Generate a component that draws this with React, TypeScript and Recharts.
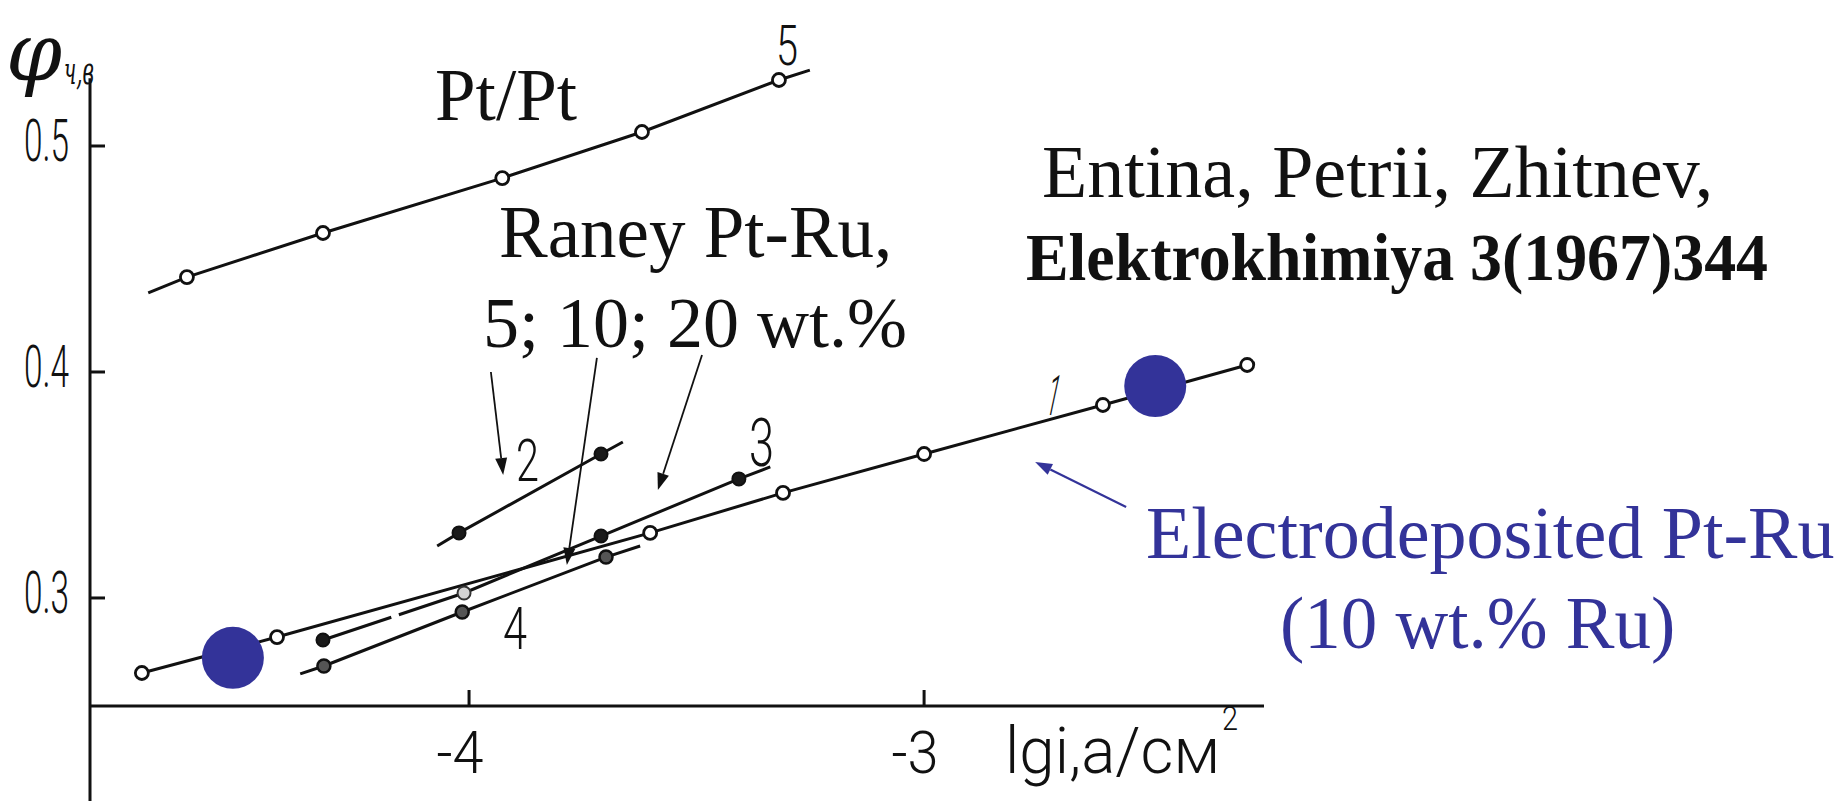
import React from "react";
import { ComposedChart, Line, Scatter, XAxis, YAxis, ReferenceLine } from "recharts";

// lg i (A/cm2) vs potential (V)
// measured points, [lg i, phi]
const curve1Points = [
  [-4.719, 0.2668], [-4.422, 0.2827], [-3.602, 0.3288], [-3.31, 0.3465],
  [-3.0, 0.3637], [-2.607, 0.3854], [-2.29, 0.4031],
];
const curve2Points = [[-4.022, 0.3288], [-3.71, 0.3637]];
const curve3Points = [[-4.321, 0.2814], [-4.011, 0.3022], [-3.71, 0.3274], [-3.407, 0.3527]];
const curve4Points = [[-4.319, 0.2699], [-4.015, 0.2938], [-3.699, 0.3181]];
const curve5Points = [
  [-4.62, 0.442], [-4.321, 0.4615], [-3.927, 0.4858], [-3.62, 0.5062], [-3.319, 0.5292],
];
// where the drawn straight lines stop
const curve1Ends = [[-2.273, 0.404]];
const curve2Ends = [[-4.07, 0.323], [-3.662, 0.369]];
const curve3Ends = [[-3.338, 0.358]];
const curve4Ends = [[-4.371, 0.2664], [-3.624, 0.323]];
const curve5Ends = [[-4.705, 0.435], [-3.251, 0.5336]];
// electrodeposited Pt-Ru (10 wt.% Ru) markers
const electroPoints = [[-4.519, 0.2735], [-2.492, 0.3938]];

const xTicks = [-4, -3];
const yTicks = [0.3, 0.4, 0.5];
const xDomain = [-4.833, -2.253];
const yDomain = [0.2522, 0.54];

// annotation arrows [from, to]
const arrowsBlack = [
  [[-3.952, 0.4], [-3.925, 0.3544]],
  [[-3.719, 0.4062], [-3.785, 0.3146]],
  [[-3.488, 0.4075], [-3.585, 0.3478]],
];
const arrowBlue = [[-2.556, 0.3403], [-2.756, 0.3602]];
const yAxisLine = [[-4.833, 0.53], [-4.833, 0.2102]];

const BLUE = "#333399";
const INK = "#111";
const SERIF = "'Liberation Serif', 'Times New Roman', serif";
const HAND = "Roboto, 'DejaVu Sans', sans-serif";

const toXY = (arr: number[][]) => arr.map(([x, y]) => ({ x, y }));
const lineData = (pts: number[][], ends: number[][]) =>
  toXY([...pts, ...ends]).sort((a, b) => a.x - b.x);

const openDot = (p: any) => (
  <circle cx={p.cx} cy={p.cy} r={6.5} fill="#fff" stroke={INK} strokeWidth={2.8} />
);
const filledDot = (p: any) => (
  <circle cx={p.cx} cy={p.cy} r={6.5} fill="#1a1a1a" stroke={INK} strokeWidth={2} />
);
const greyDot = (p: any) => (
  <circle cx={p.cx} cy={p.cy} r={6.5} fill="#555" stroke={INK} strokeWidth={2.5} />
);
// second point of curve 3 is drawn lighter in the original
const curve3Dot = (p: any) =>
  p.index === 1 ? (
    <circle cx={p.cx} cy={p.cy} r={6.5} fill="#d4d4d4" stroke="#333" strokeWidth={2} />
  ) : (
    filledDot(p)
  );
const bigBlue = (p: any) => <circle cx={p.cx} cy={p.cy} r={31} fill={BLUE} />;

const arrowShape = (color: string, width: number) => (p: any) => {
  const { x1, y1, x2, y2 } = p;
  const a = Math.atan2(y2 - y1, x2 - x1);
  const L = 17;
  const W = 6;
  const bx = x2 - L * Math.cos(a);
  const by = y2 - L * Math.sin(a);
  const px = -Math.sin(a) * W;
  const py = Math.cos(a) * W;
  return (
    <g>
      <line x1={x1} y1={y1} x2={bx} y2={by} stroke={color} strokeWidth={width} />
      <polygon points={`${x2},${y2} ${bx + px},${by + py} ${bx - px},${by - py}`} fill={color} />
    </g>
  );
};

const plainLine = (p: any) => (
  <line x1={p.x1} y1={p.y1} x2={p.x2} y2={p.y2} stroke={INK} strokeWidth={3} />
);

const XTick = (p: any) => (
  <text
    x={p.x - 9}
    y={p.y}
    textAnchor="middle"
    fontFamily={HAND}
    fontWeight={300}
    fontSize={60}
    fill={INK}
    textLength={47}
    lengthAdjust="spacingAndGlyphs"
  >
    {p.payload.value}
  </text>
);

const YTick = (p: any) => (
  <text
    x={p.x}
    y={p.y + 15}
    textAnchor="end"
    fontFamily={HAND}
    fontWeight={300}
    fontSize={60}
    fill={INK}
    textLength={45}
    lengthAdjust="spacingAndGlyphs"
  >
    {p.payload.value.toFixed(1)}
  </text>
);

const hand = (s: string, x: number, y: number, size: number, w: number, extra: any = {}) => (
  <text
    x={x}
    y={y}
    fontFamily={HAND}
    fontWeight={300}
    fontSize={size}
    fill={INK}
    textLength={w}
    lengthAdjust="spacingAndGlyphs"
    {...extra}
  >
    {s}
  </text>
);

export default function App() {
  const series = [
    { key: "c5", line: lineData(curve5Points, curve5Ends), pts: toXY(curve5Points), dot: openDot },
    { key: "c1", line: lineData(curve1Points, curve1Ends), pts: toXY(curve1Points), dot: openDot },
    { key: "c2", line: lineData(curve2Points, curve2Ends), pts: toXY(curve2Points), dot: filledDot },
    { key: "c4", line: lineData(curve4Points, curve4Ends), pts: toXY(curve4Points), dot: greyDot },
    { key: "c3", line: lineData(curve3Points, curve3Ends), pts: toXY(curve3Points), dot: curve3Dot },
  ];

  return (
    <div style={{ position: "absolute", left: 0, top: 0, width: 1844, height: 801, background: "#fff" }}>
      <ComposedChart
        width={1844}
        height={801}
        margin={{ top: 55.6, right: 580, bottom: 35, left: 30 }}
      >
        <XAxis
          dataKey="x"
          type="number"
          domain={xDomain}
          allowDataOverflow
          ticks={xTicks}
          interval={0}
          height={60}
          tickSize={-16}
          tickMargin={83}
          axisLine={{ stroke: INK, strokeWidth: 3 }}
          tickLine={{ stroke: INK, strokeWidth: 3 }}
          tick={XTick}
        />
        <YAxis
          dataKey="y"
          type="number"
          domain={yDomain}
          allowDataOverflow
          ticks={yTicks}
          interval={0}
          width={60}
          tickSize={-15}
          tickMargin={36}
          axisLine={false}
          tickLine={{ stroke: INK, strokeWidth: 3 }}
          tick={YTick}
        />
        <ReferenceLine
          segment={toXY(yAxisLine)}
          ifOverflow="visible"
          stroke={INK}
          shape={plainLine}
        />
        {series.map((s) => (
          <Line
            key={s.key + "-line"}
            data={s.line}
            dataKey="y"
            type="linear"
            stroke={INK}
            strokeWidth={3}
            strokeDasharray={s.key === "c3" ? "72 8 3000" : undefined}
            dot={false}
            activeDot={false}
            isAnimationActive={false}
          />
        ))}
        {series.map((s) => (
          <Scatter
            key={s.key + "-pts"}
            data={s.pts}
            dataKey="y"
            shape={s.dot}
            isAnimationActive={false}
          />
        ))}
        <Scatter data={toXY(electroPoints)} dataKey="y" shape={bigBlue} isAnimationActive={false} />
        {arrowsBlack.map((a, i) => (
          <ReferenceLine
            key={"arr" + i}
            segment={toXY(a)}
            ifOverflow="visible"
            stroke={INK}
            shape={arrowShape(INK, 1.8)}
          />
        ))}
        <ReferenceLine
          segment={toXY(arrowBlue)}
          ifOverflow="visible"
          stroke={BLUE}
          shape={arrowShape(BLUE, 2.2)}
        />
      </ComposedChart>

      <svg
        width={1844}
        height={801}
        style={{ position: "absolute", left: 0, top: 0, pointerEvents: "none" }}
      >
        {/* axis titles */}
        <text x={6} y={80} fontFamily="'DejaVu Serif', serif" fontStyle="italic" fontSize={80} fill={INK}>
          φ
        </text>
        <text
          x={64}
          y={84}
          fontFamily="'DejaVu Serif', serif"
          fontStyle="italic"
          fontSize={40}
          fill={INK}
          textLength={30}
          lengthAdjust="spacingAndGlyphs"
        >
          ч,в
        </text>
        {hand("lgi,а/см", 1005, 773, 64, 215)}
        {hand("2", 1222, 730, 34, 16)}

        {/* curve numbers */}
        {hand("5", 776, 65, 56, 22)}
        {hand("2", 516, 481, 59, 23)}
        {hand("3", 749, 466, 67, 25)}
        {hand("4", 503, 649, 60, 24)}
        {hand("1", 1047, 415, 56, 12, { transform: "skewX(-12) translate(85,0)" })}

        {/* annotations */}
        <text x={435} y={120} fontFamily={SERIF} fontSize={73} fill={INK}>
          Pt/Pt
        </text>
        <text x={499} y={257} fontFamily={SERIF} fontSize={73} fill={INK}>
          Raney Pt-Ru,
        </text>
        <text x={483} y={347} fontFamily={SERIF} fontSize={72} fill={INK}>
          5; 10; 20 wt.%
        </text>
        <text x={1042} y={197} fontFamily={SERIF} fontSize={74} fill={INK}>
          Entina, Petrii, Zhitnev,
        </text>
        <text
          x={1026}
          y={280}
          fontFamily={SERIF}
          fontWeight="bold"
          fontSize={68}
          fill={INK}
          textLength={742}
          lengthAdjust="spacingAndGlyphs"
        >
          Elektrokhimiya 3(1967)344
        </text>
        <text x={1146} y={558} fontFamily={SERIF} fontSize={74} fill={BLUE}>
          Electrodeposited Pt-Ru
        </text>
        <text x={1280} y={648} fontFamily={SERIF} fontSize={73} fill={BLUE}>
          (10 wt.% Ru)
        </text>
      </svg>
    </div>
  );
}
